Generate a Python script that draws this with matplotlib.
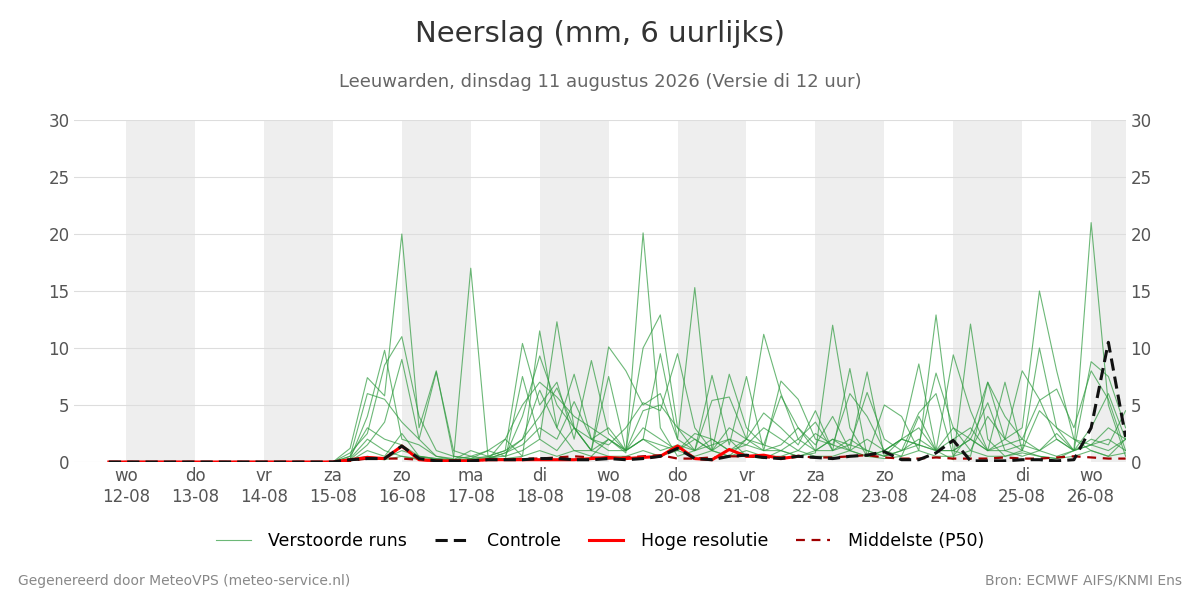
import numpy as np
import matplotlib
matplotlib.use("Agg")
import matplotlib.pyplot as plt

# time axis: days since 12-08 00:00, 6-hourly from 11-08 18:00 to 26-08 12:00
n_steps = 60
start_day = -0.25
day_labels = ["wo\n12-08","do\n13-08","vr\n14-08","za\n15-08","zo\n16-08","ma\n17-08","di\n18-08",
              "wo\n19-08","do\n20-08","vr\n21-08","za\n22-08","zo\n23-08","ma\n24-08","di\n25-08","wo\n26-08"]
lead_zeros = 13  # steps before 15-08 00:00 with no rain

# ensemble members from 15-08 00:00 onward
members = [
 [0,1.2,7.4,5.8,20,3,8,0.5,0.3,0.2,2,0.5,11.5,3,1,0.5,2,0.8,20.1,3,0.5,1,1.5,2,0.5,0.3,1,0.5,0.8,12,3,0.5,1,0.5,4,1,0.2,12.1,2,0.5,0.8,0.5,0.3,1,21,5,0.5],
 [0,0.5,6,5.5,3.5,2,0.5,0.3,17,0.5,0.2,7.5,2,12.3,3,1,10.1,8,5,6,2,15.3,1,0.5,2,11.2,6,2,3.5,1,8.2,0.5,5,4,1,12.9,1,0.5,7,2,3,15,8,2,1,0.5,2],
 [0,0.3,4,9.8,2,1.5,0.5,0.2,1,0.5,1,10.4,5,7,2,8.9,2.5,1,10,12.9,3,1,7.6,1.5,7.5,1,7.1,5.5,2,1.5,1,7.9,0.5,2,8.6,1,9.4,4.5,1,7,1,10,3,1,8.8,7.5,3],
 [0,0.8,2.5,8.5,11,4,1,0.5,0.3,1,0.5,4,9.3,5,3,1,7.5,1,2,9.5,2,1,5.4,5.7,2,4.3,3,1.5,4.5,1,1.5,6.1,2,1,4.3,6,0.5,2.5,7,4,2,5.4,6.4,3,8,5.5,1],
 [0,0.2,1.5,3.5,9,2,7.9,1,0.5,0.3,0.8,2,6.3,3,7.7,2,1.5,3,5.2,4.5,9.5,3,1,7.7,3,1.5,5.8,3,1.5,4,1,2,1,2,1.5,7.8,3,1,4,2,8,5.5,2,1,3,6,2],
 [0,0.5,3,2,1.5,0.5,0.3,0.2,0.5,1,2,5,7,5.7,4,3,2,1,4.5,5,3,2,1,2,1.5,3,2,1,2.5,1.5,6,4,1,2,1.5,1,2,3,1,2,1,4.5,3,2,1.5,2,1],
 [0,0.3,2,1,0.5,0.3,0.2,0.1,0.3,0.5,1,2,4,6.5,3,1,2,1,3,2,1,2,1,3,2,1.5,1,0.5,1,2,1,0.5,1,2,3,1,1,2,5.2,1,0.5,1,2,1,1.5,3,2],
 [0,0.1,1,0.5,2.5,0.5,0.3,0.2,0.1,0.3,0.8,1.5,3,2,5.3,2,3,1,2,1.5,1,2.5,2,1,1.5,1,1.5,3,1,2,1.5,1,0.5,1,2,1,3,2,1,1.5,2,1,2.5,1,2,1.5,4.5],
 [0,0.2,0.5,0.3,1,0.5,0.2,0.1,0.2,0.4,0.5,1,2,1,3,2,1,1,2,1,1.5,1,2,1,2,1,1,2,1,1,2,1,0.5,1,1.5,1,1,2,1,1,1.5,1,0.5,1,1.5,1,2],
 [0,0.1,0.3,0.2,0.5,0.2,0.1,0.1,0.1,0.2,0.3,0.5,1,0.5,1,1,0.5,0.5,1,0.5,1,0.5,1,0.5,1,0.5,0.5,1,0.5,0.5,1,0.5,0.3,0.5,1,0.5,0.5,1,0.5,0.5,1,0.5,0.3,0.5,1,0.5,0.8],
]
controle = [0]*lead_zeros + [0,0.2,0.3,0.3,1.4,0.3,0.1,0.1,0.1,0.2,0.2,0.2,0.3,0.3,0.2,0.2,0.3,0.2,0.3,0.5,1.2,0.3,0.2,0.5,0.6,0.4,0.3,0.5,0.4,0.3,0.5,0.6,0.9,0.2,0.2,0.8,1.9,0.1,0.1,0.1,0.2,0.2,0.1,0.2,3.0,10.5,2.2]
hres = [0]*lead_zeros + [0,0.2,0.4,0.3,1.4,0.2,0.1,0.1,0.1,0.2,0.2,0.2,0.2,0.2,0.2,0.3,0.4,0.3,0.4,0.5,1.4,0.3,0.2,1.1,0.5,0.6,0.3,0.5]
p50 = [0]*lead_zeros + [0,0.1,0.3,0.3,0.3,0.2,0.1,0.1,0.1,0.2,0.2,0.3,0.3,0.4,0.5,0.4,0.3,0.4,0.5,0.6,0.3,0.3,0.4,0.5,0.5,0.4,0.4,0.5,0.4,0.4,0.5,0.6,0.4,0.3,0.3,0.4,0.3,0.3,0.3,0.4,0.3,0.3,0.4,0.5,0.4,0.3,0.3]

x = start_day + 0.25*np.arange(n_steps)

fig = plt.figure(figsize=(12, 6), dpi=100)
ax = fig.add_axes([0.062, 0.23, 0.876, 0.57])
for d in range(0, 15, 2):
    ax.axvspan(d, d+1, color="#eeeeee", lw=0, zorder=0)
ax.grid(axis="y", color="#dddddd", lw=0.8, zorder=1)
ax.set_axisbelow(True)

for i, m in enumerate(members):
    vals = ([0]*lead_zeros + m + [0]*60)[:n_steps]
    ax.plot(x, vals, color="#2e9a3e", lw=0.8, alpha=0.7, zorder=2,
            label="Verstoorde runs" if i == 0 else None)
ax.plot(x[:len(p50)], p50[:n_steps], color="#a00000", lw=1.6, ls=(0, (4, 3)), zorder=4, label="Middelste (P50)")
ax.plot(x[:len(hres)], hres[:n_steps], color="#ff0000", lw=2.2, zorder=5, label="Hoge resolutie")
ax.plot(x[:len(controle)], controle[:n_steps], color="#111111", lw=2.2, ls=(0, (4, 2)), zorder=6, label="Controle")

ax.set_xlim(-0.75, 14.5)
ax.set_ylim(0, 30)
ax.set_yticks(range(0, 31, 5))
ax.set_xticks(range(15))
ax.set_xticklabels(day_labels)
ax.tick_params(labelsize=12, colors="#555555", length=0, right=True, labelright=True)
for s in ax.spines.values():
    s.set_visible(False)

h, l = ax.get_legend_handles_labels()
order = ["Verstoorde runs", "Controle", "Hoge resolutie", "Middelste (P50)"]
hh = [h[l.index(o)] for o in order]
fig.legend(hh, order, loc="center", bbox_to_anchor=(0.5, 0.098), ncol=4, frameon=False,
           fontsize=12.5, handlelength=2.0, handletextpad=1.0, columnspacing=1.6)

fig.text(0.5, 0.93, "Neerslag (mm, 6 uurlijks)", ha="center", fontsize=21, color="#333333")
fig.text(0.5, 0.855, "Leeuwarden, dinsdag 11 augustus 2026 (Versie di 12 uur)", ha="center", fontsize=13, color="#666666")
fig.text(0.015, 0.025, "Gegenereerd door MeteoVPS (meteo-service.nl)", fontsize=10, color="#888888")
fig.text(0.985, 0.025, "Bron: ECMWF AIFS/KNMI Ens", fontsize=10, color="#888888", ha="right")
fig.savefig("out.png")
